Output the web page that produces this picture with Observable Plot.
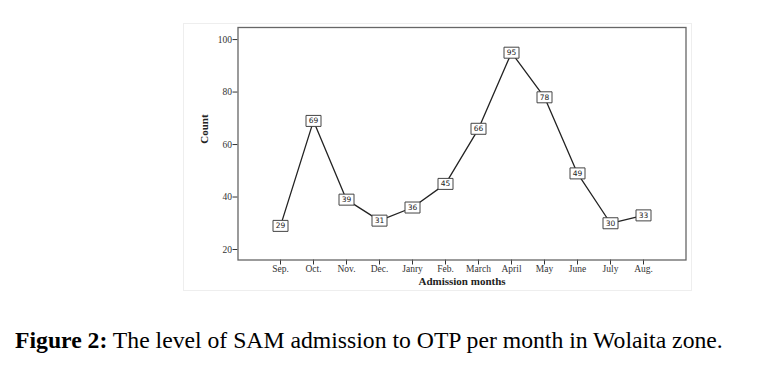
<!DOCTYPE html>
<html>
<head>
<meta charset="utf-8">
<script src="https://cdn.jsdelivr.net/npm/d3@7"></script>
<script src="https://cdn.jsdelivr.net/npm/@observablehq/plot@0.6"></script>
<style>
  body { margin: 0; background: #fff; width: 766px; height: 365px; overflow: hidden; position: relative; }
  #frame { position: absolute; left: 183px; top: 23px; width: 509px; height: 268px; border: 1px solid #eeeeee; box-sizing: border-box; }
  #chart { position: absolute; left: 0; top: 0; }
  #caption { position: absolute; left: 15px; top: 327px; font-family: "Liberation Serif", "Times New Roman", serif; font-size: 23.7px; color: #000; white-space: nowrap; }
</style>
</head>
<body>
<div id="frame"></div>
<div id="chart"></div>
<div id="caption"><b>Figure 2:</b> The level of SAM admission to OTP per month in Wolaita zone.</div>
<script>
const months = ["Sep.", "Oct.", "Nov.", "Dec.", "Janry", "Feb.", "March", "April", "May", "June", "July", "Aug."];
const counts = [29, 69, 39, 31, 36, 45, 66, 95, 78, 49, 30, 33];
const yTicks = [20, 40, 60, 80, 100];

const data = months.map((m, i) => ({month: m, count: counts[i]}));

const boxSymbol = {
  draw(context) {
    const w = 7.5, h = 5.5;
    context.moveTo(-w, -h);
    context.lineTo(w, -h);
    context.lineTo(w, h);
    context.lineTo(-w, h);
    context.closePath();
  }
};

const chart = Plot.plot({
  width: 766,
  height: 305,
  marginTop: 27,
  marginBottom: 45.5,
  marginLeft: 237.5,
  marginRight: 80.5,
  style: {fontFamily: "Liberation Serif, serif", fontSize: "9.5px", color: "#333", background: "transparent"},
  x: {type: "point", domain: months, padding: 1.15, label: null, tickSize: 5, tickPadding: 0},
  y: {domain: [16, 104.6], ticks: yTicks, label: null, tickSize: 5, tickPadding: 1},
  marks: [
    Plot.frame({stroke: "#666", strokeWidth: 1.3}),
    Plot.line(data, {x: "month", y: "count", stroke: "#222", strokeWidth: 1.3}),
    Plot.dot(data, {x: "month", y: "count", symbol: boxSymbol, r: 5, fill: "white", stroke: "#444", strokeWidth: 1}),
    Plot.text(data, {x: "month", y: "count", text: d => String(d.count), fontFamily: "DejaVu Sans, sans-serif", fontSize: 7.5, fill: "#222"}),
    Plot.text(["Admission months"], {frameAnchor: "bottom", dy: 21.5, lineAnchor: "middle", text: d => d, fontWeight: "bold", fontSize: 11, fill: "#222", fontFamily: "Liberation Serif, serif"}),
    Plot.text(["Count"], {frameAnchor: "left", dx: -34, text: d => d, rotate: -90, fontWeight: "bold", fontSize: 11, fill: "#222", fontFamily: "Liberation Serif, serif"})
  ]
});
document.getElementById("chart").appendChild(chart);
</script>
</body>
</html>
